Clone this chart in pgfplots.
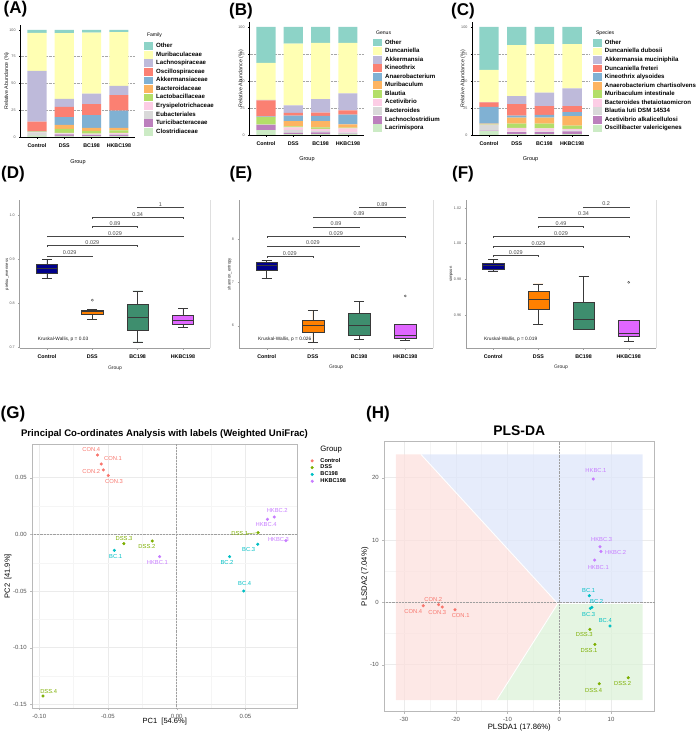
\documentclass[border=0pt]{standalone}
\usepackage{pgfplots}
\pgfplotsset{compat=1.18}
\usepackage{pgfplotstable}
\usepgfplotslibrary{statistics}
\usepackage{fontspec}
\setmainfont{Liberation Sans}

\definecolor{sa}{HTML}{CCEBC5}
\definecolor{sb}{HTML}{BC80BD}
\definecolor{sc}{HTML}{D9D9D9}
\definecolor{sd}{HTML}{FCCDE5}
\definecolor{se}{HTML}{B3DE69}
\definecolor{sf}{HTML}{FDB462}
\definecolor{sg}{HTML}{80B1D3}
\definecolor{sh}{HTML}{FB8072}
\definecolor{si}{HTML}{BEBADA}
\definecolor{sj}{HTML}{FFFFB3}
\definecolor{sk}{HTML}{8DD3C7}
\definecolor{bctrl}{HTML}{00008B}
\definecolor{bdss}{HTML}{FF8000}
\definecolor{bbc}{HTML}{3E8E6E}
\definecolor{bhk}{HTML}{E066FF}
\definecolor{gctrl}{HTML}{F8766D}
\definecolor{gdss}{HTML}{7CAE00}
\definecolor{gbc}{HTML}{00BFC4}
\definecolor{ghk}{HTML}{C77CFF}
\definecolor{rpink}{HTML}{FCE0DD}
\definecolor{rblue}{HTML}{DEE6FA}
\definecolor{rgreen}{HTML}{DCF2D8}

\pgfplotstableread{
x a b c d e f g h i j k
1 1.5 0.3 2.5 0.3 0.3 0.2 0.2 9.0 47.5 35.5 2.7
2 1.0 1.5 0.5 0.7 3.8 3.7 7.4 9.4 7.7 61.3 3.0
3 0.8 1.2 0.5 0.6 2.5 2.8 12.1 10.2 9.7 57.1 2.5
4 0.8 1.2 0.6 1.1 2.5 2.2 16.1 14.6 8.7 50.2 2.0
}\famtab
\pgfplotstableread{
x a b c d e f g h i j k
1 4.5 4.8 0.2 0.1 6.9 0.3 0.5 14.8 0.5 34.1 33.3
2 0.8 1.2 2.6 2.4 1.0 4.7 5.2 2.5 7.1 57.1 15.4
3 0.8 1.5 1.5 1.8 1.5 5.6 4.9 3.1 12.6 51.9 14.8
4 0.8 0.5 1.2 3.5 0.8 3.1 8.9 4.0 15.8 46.6 14.8
}\gentab
\pgfplotstableread{
x a b c d e f g h i j k
1 3.5 0.5 5.0 0.5 0.5 0.6 15.5 4.0 0.3 29.8 39.8
2 0.8 1.8 0.5 3.4 4.1 5.5 1.9 10.6 7.4 47.2 16.8
3 0.8 1.8 0.8 2.8 4.4 5.5 2.5 8.1 12.4 45.1 15.8
4 0.8 2.5 1.0 1.3 3.1 8.7 3.7 5.6 16.5 41.0 15.8
}\spetab

\newcommand{\stackbars}[1]{%
\addplot[fill=sa,draw=none] table[x=x,y=a]{#1};
\addplot[fill=sb,draw=none] table[x=x,y=b]{#1};
\addplot[fill=sc,draw=none] table[x=x,y=c]{#1};
\addplot[fill=sd,draw=none] table[x=x,y=d]{#1};
\addplot[fill=se,draw=none] table[x=x,y=e]{#1};
\addplot[fill=sf,draw=none] table[x=x,y=f]{#1};
\addplot[fill=sg,draw=none] table[x=x,y=g]{#1};
\addplot[fill=sh,draw=none] table[x=x,y=h]{#1};
\addplot[fill=si,draw=none] table[x=x,y=i]{#1};
\addplot[fill=sj,draw=none] table[x=x,y=j]{#1};
\addplot[fill=sk,draw=none] table[x=x,y=k]{#1};
}

\pgfplotsset{
 stackax/.style={
  scale only axis, anchor=south west, clip=false,
  ybar stacked, bar width=0.7,
  xmin=0.4, xmax=4.6, ymin=-0.5, ymax=105,
  xtick={1,2,3,4}, xticklabels={Control,DSS,BC198,HKBC198},
  ytick={25,50,75}, extra y ticks={0,100}, extra y tick style={grid=none},
  ymajorgrids, major grid style={densely dotted, gray!70, line width=0.5pt},
  axis x line*=bottom, axis y line*=left,
  axis line style={-, line width=0.9pt},
  every outer x axis line/.append style={-}, every outer y axis line/.append style={-},
  tick align=outside, major tick length=1.5pt, tick style={line width=0.4pt, black},
  x tick label style={font=\fontsize{5.3}{6}\selectfont\bfseries, yshift=-1.5pt},
  y tick label style={font=\fontsize{3.7}{4}\selectfont, text=gray!70!black},
  /pgf/number format/assume math mode=true,
  reverse legend, legend cell align=left,
  legend style={draw=none, fill=none, inner sep=0pt, row sep=0pt,
    font=\fontsize{6.1}{7}\selectfont\bfseries, nodes={inner sep=0pt, anchor=west}},
  legend image code/.code={\path[draw=none, fill=none] (0pt,-4.28pt) rectangle (12pt,4.28pt);
    \fill[##1] (0pt,-3.9pt) rectangle (9pt,3.9pt);},
 },
 boxax/.style={
  scale only axis, anchor=south west, clip=false,
  xmin=0.4, xmax=4.6,
  xtick={1,2,3,4}, xticklabels={Control,DSS,BC198,HKBC198},
  axis x line*=bottom, axis y line*=left,
  axis line style={-, gray!75, line width=0.6pt},
  every outer x axis line/.append style={-}, every outer y axis line/.append style={-},
  tick align=outside, major tick length=1.5pt, tick style={gray!75, line width=0.4pt},
  x tick label style={font=\fontsize{5.3}{6}\selectfont\bfseries, yshift=-1.5pt},
  y tick label style={font=\fontsize{3.7}{4}\selectfont, text=gray!70!black},
  /pgf/number format/assume math mode=true,
  boxplot/draw direction=y,
  boxplot/box extend=0.47, boxplot/whisker extend=0.22,
 },
 bxp/.style={draw=gray!45!black, line width=0.45pt, mark=o, mark size=1.1pt,
   mark options={draw=gray!50!black, fill=none, line width=0.35pt}},
 brk/.style={gray!55!black, line width=0.4pt, mark=none},
 scatax/.style={
  scale only axis, anchor=south west, clip=false,
  grid=both, major grid style={gray!16, line width=0.5pt}, minor grid style={gray!8, line width=0.35pt},
  minor x tick num=1, minor y tick num=1,
  axis line style={gray!55, line width=0.6pt},
  xtick pos=bottom, ytick pos=left,
  tick align=outside, major tick length=2pt, minor tick length=0pt, tick style={gray!55},
  tick label style={font=\fontsize{6}{7}\selectfont, text=gray!65!black},
  /pgf/number format/assume math mode=true,
 },
}

\tikzset{
 plab/.style={font=\fontsize{17}{17}\selectfont\bfseries},
 blab/.style={font=\fontsize{5.5}{6}\selectfont, text=gray!60!black, anchor=south, inner sep=0.6pt},
 glab/.style={font=\fontsize{5.8}{6}\selectfont, inner sep=0pt},
}

\begin{document}
\begin{tikzpicture}
\path[use as bounding box] (0pt,0pt) rectangle (696pt,731pt);

% ---------------- (A) Family ----------------
\begin{axis}[stackax, at={(20.6pt,593.5pt)}, width=114.7pt, height=112.9pt,
  legend style={at={(axis description cs:1.0759,0.8485)}, anchor=north west},
  legend entries={Clostridiaceae,Turicibacteraceae,Eubacteriales,Erysipelotrichaceae,Lactobacillaceae,Bacteroidaceae,Akkermansiaceae,Oscillospiraceae,Lachnospiraceae,Muribaculaceae,Other}]
\stackbars{\famtab}
\node[font=\fontsize{5.5}{6}\selectfont] at (axis description cs:0.5,-0.217) {Group};
\node[rotate=90, font=\fontsize{5.3}{6}\selectfont, text=gray!20!black] at (axis description cs:-0.121,0.5) {Relative Abundance (\%)};
\end{axis}
\node[anchor=west, font=\fontsize{5.1}{6}\selectfont] at (143.5pt,696pt) {Family};

% ---------------- (B) Genus ----------------
\begin{axis}[stackax, at={(249.6pt,595.5pt)}, width=114.7pt, height=113.9pt,
  legend style={at={(axis description cs:1.0759,0.855)}, anchor=north west},
  legend entries={Lacrimispora,Lachnoclostridium,Bacteroides,Acetivibrio,Blautia,Muribaculum,Anaerobacterium,Kineothrix,Akkermansia,Duncaniella,Other}]
\stackbars{\gentab}
\node[font=\fontsize{5.5}{6}\selectfont] at (axis description cs:0.5,-0.209) {Group};
\node[rotate=90, font=\fontsize{5.3}{6}\selectfont, text=gray!20!black] at (axis description cs:-0.075,0.5) {Relative Abundance (\%)};
\end{axis}
\node[anchor=west, font=\fontsize{5.1}{6}\selectfont] at (372.5pt,698pt) {Genus};

% ---------------- (C) Species ----------------
\begin{axis}[stackax, at={(472.4pt,595.5pt)}, width=116.3pt, height=113.9pt,
  legend style={at={(axis description cs:1.0344,0.8525)}, anchor=north west},
  legend entries={Oscillibacter valericigenes,Acetivibrio alkalicellulosi,Blautia luti DSM 14534,Bacteroides thetaiotaomicron,Muribaculum intestinale,Anaerobacterium chartisolvens,Kineothrix alysoides,Duncaniella freteri,Akkermansia muciniphila,Duncaniella dubosii,Other}]
\stackbars{\spetab}
\node[font=\fontsize{5.5}{6}\selectfont] at (axis description cs:0.5,-0.209) {Group};
\node[rotate=90, font=\fontsize{5.3}{6}\selectfont, text=gray!20!black] at (axis description cs:-0.081,0.5) {Relative Abundance (\%)};
\end{axis}
\node[anchor=west, font=\fontsize{5.1}{6}\selectfont] at (592.5pt,698pt) {Species};

% ---------------- (D) pielou ----------------
\begin{axis}[boxax, at={(19.8pt,382.5pt)}, width=190.4pt, height=148.5pt,
  ymin=0.698, ymax=1.0357, ytick={0.7,0.8,0.9,1.0},
  yticklabel style={/pgf/number format/.cd, fixed, fixed zerofill, precision=1}]
\addplot[bxp, fill=bctrl, boxplot prepared={draw position=1, median=0.880, upper quartile=0.889, lower quartile=0.870, upper whisker=0.900, lower whisker=0.858}] coordinates {};
\addplot[bxp, fill=bdss, boxplot prepared={draw position=2, median=0.782, upper quartile=0.786, lower quartile=0.776, upper whisker=0.787, lower whisker=0.765}] table[row sep=\\, y index=0] {v\\ 0.808\\};
\addplot[bxp, fill=bbc, boxplot prepared={draw position=3, median=0.769, upper quartile=0.799, lower quartile=0.740, upper whisker=0.829, lower whisker=0.713}] coordinates {};
\addplot[bxp, fill=bhk, boxplot prepared={draw position=4, median=0.762, upper quartile=0.773, lower quartile=0.754, upper whisker=0.789, lower whisker=0.746}] coordinates {};
\addplot[brk] coordinates {(1,0.9055) (1,0.909) (2,0.909) (2,0.9055)};
\addplot[brk] coordinates {(1,0.9285) (1,0.932) (3,0.932) (3,0.9285)};
\addplot[brk] coordinates {(1,0.9505) (1,0.954) (4,0.954) (4,0.9505)};
\addplot[brk] coordinates {(2,0.9715) (2,0.975) (3,0.975) (3,0.9715)};
\addplot[brk] coordinates {(2,0.9935) (2,0.997) (4,0.997) (4,0.9935)};
\addplot[brk] coordinates {(3,1.0165) (3,1.020) (4,1.020) (4,1.0165)};
\node[blab] at (axis cs:1.5,0.909) {0.029};
\node[blab] at (axis cs:2,0.932) {0.029};
\node[blab] at (axis cs:2.5,0.954) {0.029};
\node[blab] at (axis cs:2.5,0.975) {0.89};
\node[blab] at (axis cs:3,0.997) {0.34};
\node[blab] at (axis cs:3.5,1.020) {1};
\node[anchor=west, font=\fontsize{4.8}{5}\selectfont, text=gray!20!black] at (axis cs:0.72,0.718) {Kruskal-Wallis, p = 0.03};
\draw[gray!25, line width=0.5pt] (rel axis cs:1,0) -- (rel axis cs:1,1);
\node[font=\fontsize{5}{6}\selectfont, text=gray!30!black] at (axis description cs:0.5,-0.131) {Group};
\node[rotate=90, font=\fontsize{4.2}{5}\selectfont, text=gray!30!black] at (axis description cs:-0.067,0.5) {pielou\_evenness};
\end{axis}

% ---------------- (E) shannon ----------------
\begin{axis}[boxax, at={(239pt,382.7pt)}, width=194pt, height=148.3pt,
  ymin=5.477, ymax=8.91, ytick={6,7,8}]
\addplot[bxp, fill=bctrl, boxplot prepared={draw position=1, median=7.40, upper quartile=7.47, lower quartile=7.28, upper whisker=7.52, lower whisker=7.09}] coordinates {};
\addplot[bxp, fill=bdss, boxplot prepared={draw position=2, median=6.00, upper quartile=6.12, lower quartile=5.86, upper whisker=6.36, lower whisker=5.62}] coordinates {};
\addplot[bxp, fill=bbc, boxplot prepared={draw position=3, median=6.00, upper quartile=6.29, lower quartile=5.78, upper whisker=6.56, lower whisker=5.68}] coordinates {};
\addplot[bxp, fill=bhk, boxplot prepared={draw position=4, median=5.78, upper quartile=6.03, lower quartile=5.72, upper whisker=6.03, lower whisker=5.66}] table[row sep=\\, y index=0] {v\\ 6.69\\};
\addplot[brk] coordinates {(1,7.575) (1,7.61) (2,7.61) (2,7.575)};
\addplot[brk] coordinates {(1,7.815) (1,7.85) (3,7.85) (3,7.815)};
\addplot[brk] coordinates {(1,8.035) (1,8.07) (4,8.07) (4,8.035)};
\addplot[brk] coordinates {(2,8.255) (2,8.29) (3,8.29) (3,8.255)};
\addplot[brk] coordinates {(2,8.485) (2,8.52) (4,8.52) (4,8.485)};
\addplot[brk] coordinates {(3,8.715) (3,8.75) (4,8.75) (4,8.715)};
\node[blab] at (axis cs:1.5,7.61) {0.029};
\node[blab] at (axis cs:2,7.85) {0.029};
\node[blab] at (axis cs:2.5,8.07) {0.029};
\node[blab] at (axis cs:2.5,8.29) {0.89};
\node[blab] at (axis cs:3,8.52) {0.89};
\node[blab] at (axis cs:3.5,8.75) {0.89};
\node[anchor=west, font=\fontsize{4.8}{5}\selectfont, text=gray!20!black] at (axis cs:0.74,5.68) {Kruskal-Wallis, p = 0.026};
\draw[gray!25, line width=0.5pt] (rel axis cs:1,0) -- (rel axis cs:1,1);
\node[font=\fontsize{5}{6}\selectfont, text=gray!30!black] at (axis description cs:0.5,-0.131) {Group};
\node[rotate=90, font=\fontsize{4.2}{5}\selectfont, text=gray!30!black] at (axis description cs:-0.049,0.5) {shannon\_entropy};
\end{axis}

% ---------------- (F) simpson ----------------
\begin{axis}[boxax, at={(466.2pt,382.7pt)}, width=189.6pt, height=148.3pt,
  ymin=0.9413, ymax=1.0245, ytick={0.96,0.98,1.00,1.02},
  yticklabel style={/pgf/number format/.cd, fixed, fixed zerofill, precision=2}]
\addplot[bxp, fill=bctrl, boxplot prepared={draw position=1, median=0.9877, upper quartile=0.9890, lower quartile=0.9858, upper whisker=0.9910, lower whisker=0.9847}] coordinates {};
\addplot[bxp, fill=bdss, boxplot prepared={draw position=2, median=0.9690, upper quartile=0.9733, lower quartile=0.9632, upper whisker=0.9774, lower whisker=0.9546}] coordinates {};
\addplot[bxp, fill=bbc, boxplot prepared={draw position=3, median=0.9576, upper quartile=0.9673, lower quartile=0.9521, upper whisker=0.9817, lower whisker=0.9518}] coordinates {};
\addplot[bxp, fill=bhk, boxplot prepared={draw position=4, median=0.9497, upper quartile=0.9568, lower quartile=0.9482, upper whisker=0.9568, lower whisker=0.9450}] table[row sep=\\, y index=0] {v\\ 0.9783\\};
\addplot[brk] coordinates {(1,0.9924) (1,0.9933) (2,0.9933) (2,0.9924)};
\addplot[brk] coordinates {(1,0.9978) (1,0.9987) (3,0.9987) (3,0.9978)};
\addplot[brk] coordinates {(1,1.0034) (1,1.0043) (4,1.0043) (4,1.0034)};
\addplot[brk] coordinates {(2,1.0088) (2,1.0097) (3,1.0097) (3,1.0088)};
\addplot[brk] coordinates {(2,1.0142) (2,1.0151) (4,1.0151) (4,1.0142)};
\addplot[brk] coordinates {(3,1.0198) (3,1.0207) (4,1.0207) (4,1.0198)};
\node[blab] at (axis cs:1.5,0.9933) {0.029};
\node[blab] at (axis cs:2,0.9987) {0.029};
\node[blab] at (axis cs:2.5,1.0043) {0.029};
\node[blab] at (axis cs:2.5,1.0097) {0.49};
\node[blab] at (axis cs:3,1.0151) {0.34};
\node[blab] at (axis cs:3.5,1.0207) {0.2};
\node[anchor=west, font=\fontsize{4.8}{5}\selectfont, text=gray!20!black] at (axis cs:0.72,0.9462) {Kruskal-Wallis, p = 0.019};
\draw[gray!25, line width=0.5pt] (rel axis cs:1,0) -- (rel axis cs:1,1);
\node[font=\fontsize{5}{6}\selectfont, text=gray!30!black] at (axis description cs:0.5,-0.131) {Group};
\node[rotate=90, font=\fontsize{4.2}{5}\selectfont, text=gray!30!black] at (axis description cs:-0.08,0.5) {simpson};
\end{axis}

% ---------------- (G) PCoA ----------------
\begin{axis}[scatax, at={(32.3pt,22.7pt)}, width=265pt, height=264pt,
  xmin=-0.1051, xmax=0.0878, ymin=-0.1534, ymax=0.0794,
  xtick={-0.10,-0.05,0,0.05}, ytick={-0.15,-0.10,-0.05,0,0.05},
  xticklabel style={/pgf/number format/.cd, fixed, fixed zerofill, precision=2},
  yticklabel style={/pgf/number format/.cd, fixed, fixed zerofill, precision=2},
  legend cell align=left,
  legend style={at={(axis description cs:1.046,0.951)}, anchor=north west, draw=none, fill=none,
    inner sep=0pt, row sep=0pt, font=\fontsize{5.6}{6}\selectfont\bfseries, nodes={inner sep=0.3pt, anchor=west}},
  legend image code/.code={\path[draw=none, fill=none] (0pt,-3.4pt) rectangle (10.5pt,3.4pt); \draw[#1] plot coordinates {(2.5pt,0pt)};}]
\addplot[forget plot, densely dotted, gray!75, line width=0.45pt] coordinates {(0,-0.1534) (0,0.0794)};
\addplot[forget plot, densely dotted, gray!75, line width=0.45pt] coordinates {(-0.1051,0) (0.0878,0)};
\addplot[only marks, mark=*, mark size=1.35pt, color=gctrl] coordinates {(-0.0576,0.0700) (-0.0549,0.0621) (-0.0534,0.0568) (-0.0498,0.0518)};
\addlegendentry{Control}
\addplot[only marks, mark=*, mark size=1.35pt, color=gdss] coordinates {(0.0593,0.0015) (-0.0178,-0.0059) (-0.0385,-0.0082) (-0.0973,-0.1426)};
\addlegendentry{DSS}
\addplot[only marks, mark=*, mark size=1.35pt, color=gbc] coordinates {(-0.0454,-0.0141) (0.0385,-0.0197) (0.0590,-0.0088) (0.0488,-0.0500)};
\addlegendentry{BC198}
\addplot[only marks, mark=*, mark size=1.35pt, color=ghk] coordinates {(-0.0124,-0.0197) (0.0710,0.0153) (0.0795,-0.0056) (0.0661,0.0132)};
\addlegendentry{HKBC198}
\draw[gdss, line width=0.4pt] (axis cs:0.0506,0.0004) -- (axis cs:0.0586,0.0014);
\node[glab, text=gctrl] at (axis cs:-0.0622,0.0750) {CON.4};
\node[glab, text=gctrl] at (axis cs:-0.0463,0.0668) {CON.1};
\node[glab, text=gctrl] at (axis cs:-0.0622,0.0553) {CON.2};
\node[glab, text=gctrl] at (axis cs:-0.0456,0.0468) {CON.3};
\node[glab, text=gdss] at (axis cs:-0.0383,-0.0035) {DSS.3};
\node[glab, text=gdss] at (axis cs:-0.0217,-0.0109) {DSS.2};
\node[glab, text=gdss] at (axis cs:0.0459,0.0003) {DSS.1};
\node[glab, text=gdss] at (axis cs:-0.0932,-0.1382) {DSS.4};
\node[glab, text=gbc] at (axis cs:-0.0444,-0.0197) {BC.1};
\node[glab, text=gbc] at (axis cs:0.0366,-0.0247) {BC.2};
\node[glab, text=gbc] at (axis cs:0.0524,-0.0135) {BC.3};
\node[glab, text=gbc] at (axis cs:0.0495,-0.0432) {BC.4};
\node[glab, text=ghk] at (axis cs:-0.0141,-0.0247) {HKBC.1};
\node[glab, text=ghk] at (axis cs:0.0732,0.0209) {HKBC.2};
\node[glab, text=ghk] at (axis cs:0.0651,0.0085) {HKBC.4};
\node[glab, text=ghk] at (axis cs:0.0741,-0.0047) {HKBC.3};
\node[font=\fontsize{7.5}{8}\selectfont] at (axis description cs:0.5,-0.052) {PC1\ \ [54.6\%]};
\node[rotate=90, font=\fontsize{7.5}{8}\selectfont] at (axis description cs:-0.092,0.5) {PC2\ \ [41.9\%]};
\end{axis}
\node[anchor=west, font=\fontsize{7.8}{8}\selectfont] at (316.8pt,281pt) {Group};
\node[font=\fontsize{9.6}{10}\selectfont\bfseries] at (164.5pt,297pt) {Principal Co-ordinates Analysis with labels (Weighted UniFrac)};

% ---------------- (H) PLS-DA ----------------
\begin{axis}[scatax, at={(384.3pt,19.3pt)}, width=270pt, height=270pt,
  xmin=-33.8, xmax=18.35, ymin=-17.54, ymax=25.78,
  xtick={-30,-20,-10,0,10}, ytick={-10,0,10,20}]
\addplot[fill=rpink, draw=none, fill opacity=0.75] coordinates {(-31.55,23.74) (-26.72,23.74) (-0.3,-0.2) (-12.1,-15.67) (-31.55,-15.67)} -- cycle;
\addplot[fill=rblue, draw=none, fill opacity=0.75] coordinates {(-26.72,23.74) (16.1,23.74) (16.1,-0.2) (-0.3,-0.2)} -- cycle;
\addplot[fill=rgreen, draw=none, fill opacity=0.75] coordinates {(-0.3,-0.2) (16.1,-0.2) (16.1,-15.67) (-12.1,-15.67)} -- cycle;
\addplot[white, line width=0.9pt] coordinates {(-26.72,23.74) (-0.3,-0.2) (-12.1,-15.67)};
\addplot[white, line width=0.9pt] coordinates {(-0.3,-0.2) (16.1,-0.2)};
\addplot[densely dotted, gray!75, line width=0.45pt] coordinates {(0,-17.54) (0,25.78)};
\addplot[densely dotted, gray!75, line width=0.45pt] coordinates {(-33.8,0) (18.35,0)};
\addplot[only marks, mark=*, mark size=1.35pt, color=gctrl] coordinates {(-20.15,-1.18) (-23.31,-0.37) (-22.60,-0.75) (-26.27,-0.53)};
\addplot[only marks, mark=*, mark size=1.35pt, color=gdss] coordinates {(6.89,-6.74) (13.33,-12.09) (5.92,-4.33) (7.73,-13.05)};
\addplot[only marks, mark=*, mark size=1.35pt, color=gbc] coordinates {(5.80,1.07) (6.31,-0.80) (5.99,-0.96) (9.79,-3.80)};
\addplot[only marks, mark=*, mark size=1.35pt, color=ghk] coordinates {(6.57,19.79) (8.05,8.18) (7.86,8.93) (6.83,6.79)};
\node[glab, text=ghk] at (axis cs:7.08,21.12) {HKBC.1};
\node[glab, text=ghk] at (axis cs:8.18,10.11) {HKBC.3};
\node[glab, text=ghk] at (axis cs:10.88,8.07) {HKBC.2};
\node[glab, text=ghk] at (axis cs:7.53,5.67) {HKBC.1};
\node[glab, text=gbc] at (axis cs:5.67,1.98) {BC.1};
\node[glab, text=gbc] at (axis cs:7.21,0.11) {BC.2};
\node[glab, text=gbc] at (axis cs:5.67,-1.87) {BC.3};
\node[glab, text=gbc] at (axis cs:8.89,-2.89) {BC.4};
\node[glab, text=gdss] at (axis cs:4.83,-5.19) {DSS.3};
\node[glab, text=gdss] at (axis cs:5.73,-7.65) {DSS.1};
\node[glab, text=gdss] at (axis cs:12.23,-12.99) {DSS.2};
\node[glab, text=gdss] at (axis cs:6.63,-14.06) {DSS.4};
\node[glab, text=gctrl] at (axis cs:-28.2,-1.39) {CON.4};
\node[glab, text=gctrl] at (axis cs:-24.34,0.48) {CON.2};
\node[glab, text=gctrl] at (axis cs:-23.57,-1.60) {CON.3};
\node[glab, text=gctrl] at (axis cs:-19.06,-2.09) {CON.1};
\node[font=\fontsize{7.7}{8}\selectfont] at (axis description cs:0.5,-0.0567) {PLSDA1 (17.86\%)};
\node[rotate=90, font=\fontsize{7.7}{8}\selectfont] at (axis description cs:-0.0715,0.5) {PLSDA2 (7.04\%)};
\end{axis}
\node[font=\fontsize{13.9}{14}\selectfont\bfseries] at (519.3pt,300pt) {PLS-DA};

% panel letters
\node[plab] at (15.5pt,722pt) {(A)};
\node[plab] at (241pt,720pt) {(B)};
\node[plab] at (463pt,720pt) {(C)};
\node[plab] at (13pt,557pt) {(D)};
\node[plab] at (241pt,557pt) {(E)};
\node[plab] at (463pt,557pt) {(F)};
\node[plab] at (13pt,316.5pt) {(G)};
\node[plab] at (378pt,316.5pt) {(H)};
\end{tikzpicture}
\end{document}
